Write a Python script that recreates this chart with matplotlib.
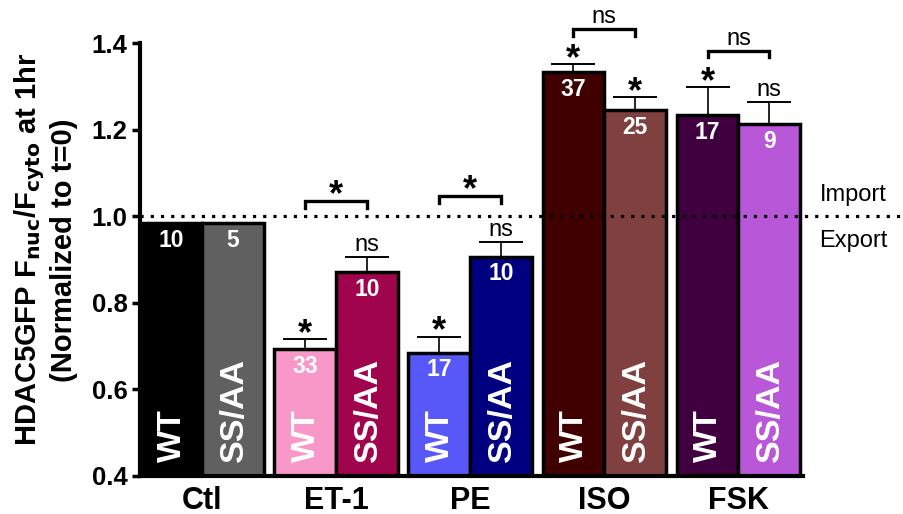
import numpy as np
import matplotlib
matplotlib.use('Agg')
import matplotlib.pyplot as plt
import matplotlib.transforms as mtransforms

plt.rcParams['font.family'] = 'Liberation Sans'

# data
groups = ['Ctl', 'ET-1', 'PE', 'ISO', 'FSK']
wt_vals = [0.985, 0.693, 0.685, 1.334, 1.234]
wt_err = [0.0, 0.023, 0.037, 0.018, 0.064]
ss_vals = [0.985, 0.871, 0.907, 1.246, 1.213]
ss_err = [0.0, 0.036, 0.033, 0.029, 0.051]
wt_n = ['10', '33', '17', '37', '17']
ss_n = ['5', '10', '10', '25', '9']
wt_sig = ['', '*', '*', '*', '*']
ss_sig = ['', 'ns', 'ns', '*', 'ns']
pair_sig = ['', '*', '*', 'ns', 'ns']
pair_y = [None, 1.036, 1.046, 1.432, 1.383]

wt_colors = ['#000000', '#F898C8', '#5858F8', '#400000', '#400040']
ss_colors = ['#606060', '#A0044C', '#000080', '#804040', '#B858D8']

fig = plt.figure(figsize=(9.04, 5.14), dpi=100)
ax = fig.add_axes([0.155, 0.074, 0.733, 0.842])

step = 2.17
xg = np.arange(len(groups)) * step
x_wt = xg
x_ss = xg + 1

ax.bar(x_wt, wt_vals, width=1, color=wt_colors, edgecolor='black', linewidth=2.5, zorder=2)
ax.bar(x_ss, ss_vals, width=1, color=ss_colors, edgecolor='black', linewidth=2.5, zorder=2)

for xs, vals, errs in [(x_wt, wt_vals, wt_err), (x_ss, ss_vals, ss_err)]:
    for x, v, e in zip(xs, vals, errs):
        if e > 0:
            ax.errorbar(x, v, yerr=[[0], [e]], fmt='none', ecolor='black',
                        elinewidth=1.2, capsize=16, capthick=1.4, zorder=1)

# n values and genotype labels inside the bars
for xs, vals, ns, lab in [(x_wt, wt_vals, wt_n, 'WT'), (x_ss, ss_vals, ss_n, 'SS/AA')]:
    for x, v, n in zip(xs, vals, ns):
        ax.text(x, v - 0.04, n, color='white', fontsize=16.5, fontweight='bold',
                ha='center', va='center', zorder=3)
        ax.text(x + 0.02, 0.432, lab, color='white', fontsize=24.5, fontweight='bold',
                rotation=90, ha='center', va='bottom', zorder=3)

# significance marks above error bars
for xs, vals, errs, sig in [(x_wt, wt_vals, wt_err, wt_sig), (x_ss, ss_vals, ss_err, ss_sig)]:
    for x, v, e, s in zip(xs, vals, errs, sig):
        if s == '*':
            ax.text(x, v + e - 0.03, '*', fontsize=26, fontweight='bold',
                    ha='center', va='bottom', clip_on=False)
        elif s:
            ax.text(x, v + e + 0.002, s, fontsize=17, ha='center', va='bottom', clip_on=False)

# brackets between WT and SS/AA
for i, s in enumerate(pair_sig):
    if not s:
        continue
    y = pair_y[i]
    ax.plot([x_wt[i], x_wt[i], x_ss[i], x_ss[i]], [y - 0.016, y, y, y - 0.016],
            color='black', lw=2.4, clip_on=False, solid_joinstyle='miter')
    if s == '*':
        ax.text(xg[i] + 0.5, y - 0.028, '*', fontsize=26, fontweight='bold',
                ha='center', va='bottom', clip_on=False)
    else:
        ax.text(xg[i] + 0.5, y + 0.002, s, fontsize=17, ha='center', va='bottom', clip_on=False)

# import / export baseline
ax.axhline(1.0, xmin=0, xmax=1.16, color='black', lw=2.3, linestyle=(0, (1, 2.2)),
           clip_on=False, zorder=4)
trans = mtransforms.blended_transform_factory(ax.transAxes, ax.transData)
ax.text(1.077, 1.049, 'Import', transform=trans, fontsize=17, ha='center', va='center')
ax.text(1.077, 0.942, 'Export', transform=trans, fontsize=17, ha='center', va='center')

ax.set_xlim(-0.5, x_ss[-1] + 0.54)
ax.set_ylim(0.4, 1.4)
ax.set_yticks([0.4, 0.6, 0.8, 1.0, 1.2, 1.4])
ax.set_yticklabels(['0.4', '0.6', '0.8', '1.0', '1.2', '1.4'])
ax.set_xticks(xg + 0.5)
ax.set_xticklabels(groups)
ax.tick_params(axis='x', length=0, pad=7, labelsize=22)
ax.tick_params(axis='y', length=6, width=2.5, pad=3, labelsize=18.5)
for lab in ax.get_xticklabels() + ax.get_yticklabels():
    lab.set_fontweight('bold')

for side in ['top', 'right']:
    ax.spines[side].set_visible(False)
for side in ['left', 'bottom']:
    ax.spines[side].set_linewidth(3)

fig.text(0.05, 0.514, 'HDAC5GFP F$_{\\mathbf{nuc}}$/F$_{\\mathbf{cyto}}$ at 1hr\n(Normalized to t=0)',
         rotation=90, ha='center', va='center', fontsize=21, fontweight='bold',
         multialignment='center', linespacing=1.1)

fig.savefig('out.png', dpi=100)
